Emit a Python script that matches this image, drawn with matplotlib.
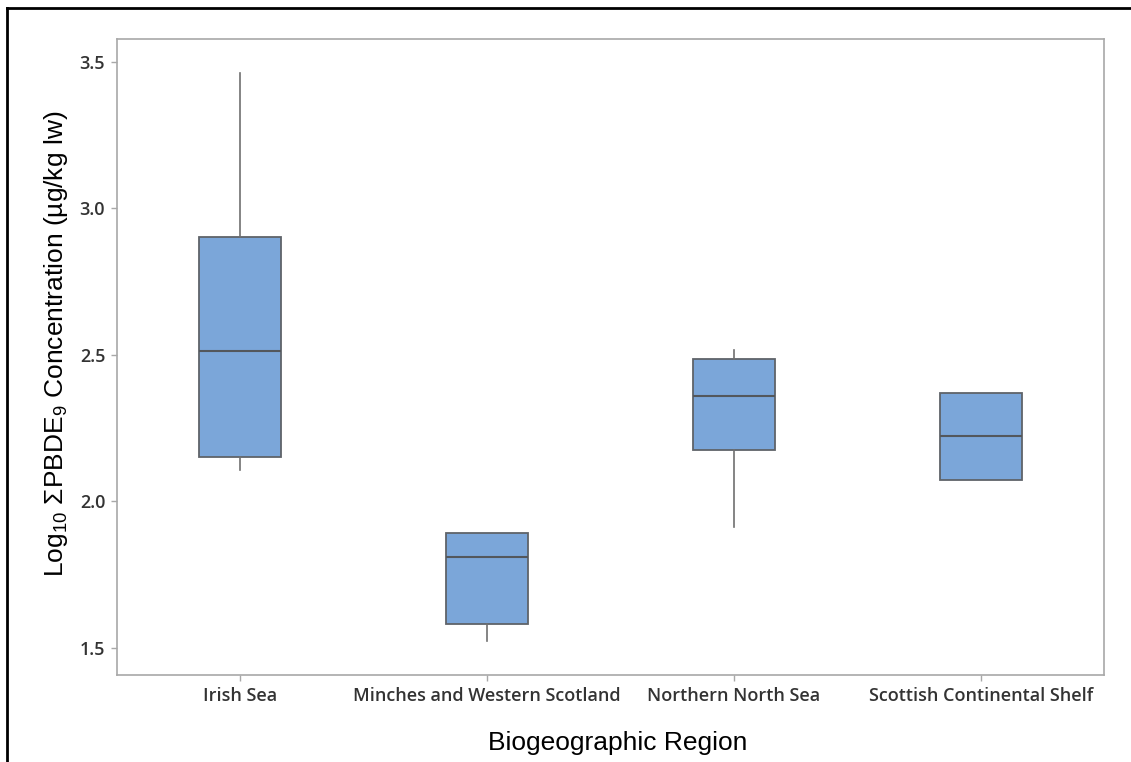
import matplotlib
matplotlib.use("Agg")
import matplotlib.pyplot as plt
from matplotlib.lines import Line2D

regions = ["Irish Sea", "Minches and Western Scotland", "Northern North Sea", "Scottish Continental Shelf"]
whisker_low = [2.108, 1.524, 1.913, 2.073]
q1 = [2.152, 1.582, 2.176, 2.073]
median = [2.514, 1.811, 2.360, 2.224]
q3 = [2.904, 1.893, 2.486, 2.370]
whisker_high = [3.461, 1.893, 2.517, 2.370]
yticks = [1.5, 2.0, 2.5, 3.0, 3.5]

plt.rcParams['mathtext.fontset'] = 'custom'
plt.rcParams['mathtext.rm'] = 'Liberation Sans'
plt.rcParams['mathtext.it'] = 'Liberation Sans'

fig = plt.figure(figsize=(11.31, 7.62), dpi=100)
ax = fig.add_axes([0.1034, 0.1142, 0.8727, 0.8346])

stats = []
for i, r in enumerate(regions):
    stats.append(dict(label=r, whislo=whisker_low[i], q1=q1[i], med=median[i],
                      q3=q3[i], whishi=whisker_high[i], fliers=[]))

ax.bxp(stats, positions=[1, 2, 3, 4], widths=0.333, patch_artist=True,
       showcaps=False, showfliers=False,
       boxprops=dict(facecolor='#7BA6D9', edgecolor='#5F6369', linewidth=1.3),
       medianprops=dict(color='#53575C', linewidth=1.5),
       whiskerprops=dict(color='#707070', linewidth=1.2))

ax.set_xlim(0.5, 4.5)
ax.set_ylim(1.408, 3.578)
ax.set_yticks(yticks)
ax.set_yticklabels([f"{v:.1f}" for v in yticks])
ax.set_xticks([1, 2, 3, 4])
ax.set_xticklabels(regions)

for s in ax.spines.values():
    s.set_color('#A8A8A8')
    s.set_linewidth(1.2)
ax.tick_params(axis='both', colors='#A8A8A8', length=4.5, width=1, labelcolor='#333333',
               labelsize=13)
for lab in ax.get_xticklabels() + ax.get_yticklabels():
    lab.set_family('Open Sans')
    lab.set_fontweight('semibold')
ax.tick_params(axis='x', pad=4)
ax.tick_params(axis='y', pad=4)

fig.text(0.0495, 0.5486, r"Log$_{10}$ ΣPBDE$_{9}$ Concentration (µg/kg lw)", rotation=90,
         ha='center', va='center', fontsize=19, family='Liberation Sans', color='black')
fig.text(0.546, 0.025, "Biogeographic Region", ha='center', va='center',
         fontsize=19, family='Liberation Sans', color='black')

fig.add_artist(Line2D([0.0062, 1.0], [0.9895, 0.9895], color='black', linewidth=2,
                      transform=fig.transFigure))
fig.add_artist(Line2D([0.0062, 0.0062], [0.0, 0.9895], color='black', linewidth=2,
                      transform=fig.transFigure))

fig.savefig("out.png", dpi=100)
